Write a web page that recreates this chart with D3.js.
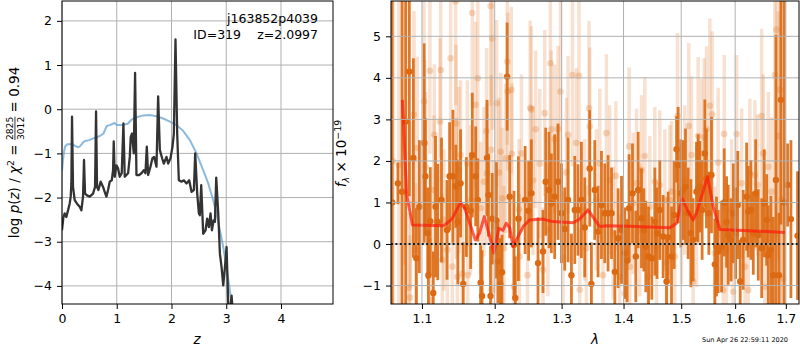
<!DOCTYPE html>
<html>
<head>
<meta charset="utf-8">
<script src="https://d3js.org/d3.v7.min.js"></script>
<style>
body { margin: 0; background: #fff; }
svg { font-family: "DejaVu Sans", sans-serif; }
</style>
</head>
<body>
<script>
// ---- left panel: p(z) ----
var zTicks = [0, 1, 2, 3, 4];
var lpTicks = [-4, -3, -2, -1, 0, 1, 2];

var zPz = [0.000,0.025,0.049,0.079,0.110,0.140,0.159,0.171,0.183,0.201,0.232,0.274,0.323,0.354,0.384,0.402,0.421,0.457,0.506,0.567,
  0.604,0.622,0.640,0.665,0.707,0.750,0.780,0.811,0.841,0.872,0.909,0.933,0.945,0.963,0.994,1.024,1.055,1.091,1.122,1.146,
  1.207,1.238,1.256,1.280,1.311,1.335,1.360,1.409,1.451,1.494,1.524,1.549,1.573,1.616,1.652,1.683,1.726,1.756,1.787,1.829,
  1.860,1.909,1.939,1.982,2.018,2.043,2.073,2.104,2.134,2.183,2.226,2.274,2.323,2.366,2.409,2.433,2.470,2.500,2.518,2.543,
  2.579,2.622,2.652,2.683,2.713,2.738,2.768,2.793,2.817,2.854,2.884,2.915,2.945,2.976,3.006,3.037,3.067,3.098,3.120,3.200];
var logPz = [-2.74,-2.45,-2.36,-2.44,-2.29,-2.14,-1.98,-1.68,-0.17,-1.76,-2.06,-2.14,-2.21,-2.29,-1.98,-1.15,-1.91,-1.95,-1.98,-1.91,
  -1.76,-0.05,-1.76,-1.83,-1.64,-1.76,-1.87,-1.98,-1.83,-1.64,-1.61,-1.38,-0.73,-1.53,-1.27,-1.34,-1.53,-1.45,-0.32,-1.53,
  -1.45,-1.08,-0.62,-0.55,-1.00,0.82,-1.49,-1.49,-1.45,-1.38,-1.45,-0.85,-1.49,-1.30,-1.11,-1.08,-1.30,0.29,-0.92,-1.11,
  -1.23,-1.08,-1.23,-1.11,-0.85,-0.55,1.58,-0.55,-1.61,-1.64,-1.61,-1.68,-1.61,-1.87,-1.83,-1.00,-1.91,-2.36,-2.40,-1.72,
  -2.82,-2.74,-2.48,-2.67,-2.36,-2.74,-2.52,-2.55,-1.55,-2.36,-3.27,-3.58,-3.99,-3.58,-3.12,-4.45,-4.60,-4.22,-4.60,-5.50];

var zPrior = [0,0.018,0.035,0.055,0.09,0.146,0.2,0.25,0.3,0.329,0.38,0.42,0.5,0.567,0.63,0.7,0.757,0.817,0.87,0.91,
  0.96,1.0,1.1,1.2,1.268,1.31,1.36,1.482,1.604,1.726,1.848,1.970,2.091,2.213,2.335,2.457,2.579,2.671,2.762,2.823,
  2.884,2.945,3.006,3.067,3.098,3.15];
var logPrior = [-1.40,-1.15,-0.98,-0.85,-0.80,-0.79,-0.80,-0.84,-0.86,-0.84,-0.76,-0.72,-0.70,-0.66,-0.64,-0.60,-0.55,-0.38,-0.36,-0.34,
  -0.31,-0.36,-0.36,-0.33,-0.24,-0.21,-0.18,-0.14,-0.13,-0.16,-0.21,-0.28,-0.36,-0.49,-0.70,-1.00,-1.38,-1.68,-2.06,-2.36,
  -2.74,-3.12,-3.58,-4.11,-4.41,-5.00];

// ---- right panel: spectrum ----
var waveTicks = [1.1, 1.2, 1.3, 1.4, 1.5, 1.6, 1.7];
var fluxTicks = [-1, 0, 1, 2, 3, 4, 5];

var waveDark = [1.0615,1.0688,1.0741,1.0788,1.0835,1.0888,1.0927,1.0966,1.1029,1.1045,1.1076,1.1085,1.111,1.115,1.118,1.121,1.126,1.1335,1.137,1.1415,
  1.1455,1.1483,1.152,1.1557,1.160,1.166,1.1683,1.173,1.176,1.180,1.182,1.1891,1.1911,1.194,1.1965,1.2025,1.2045,1.208,1.2105,1.218,
  1.2217,1.228,1.230,1.2345,1.2445,1.2497,1.2538,1.2638,1.2714,1.2755,1.2805,1.2842,1.2893,1.2945,1.2998,1.3049,1.3101,1.3154,1.3206,1.3258,
  1.3312,1.3365,1.3445,1.3472,1.3526,1.358,1.3635,1.3689,1.3743,1.38,1.3855,1.391,1.3966,1.4022,1.406,1.4094,1.4151,1.4207,1.4247,1.4304,
  1.4344,1.4378,1.4425,1.4481,1.4534,1.4573,1.4621,1.4679,1.4739,1.4768,1.4827,1.4874,1.4917,1.4945,1.4993,1.5035,1.5077,1.5125,1.5174,1.5215,
  1.5277,1.5307,1.5338,1.538,1.543,1.546,1.5504,1.5553,1.5616,1.5647,1.5678,1.5742,1.5792,1.5837,1.5868,1.592,1.5965,1.601,1.605,1.6097,
  1.6155,1.6221,1.6253,1.6305,1.6351,1.6398,1.6449,1.6516,1.6567,1.6615,1.6646,1.67,1.6746,1.68,1.686,1.69,1.6967,1.7035,1.7104,1.724];
var fluxDark = [1.0,1.46,1.26,2.95,4.15,2.07,-0.34,0.9,2.43,1.63,0.26,-0.75,0.55,-1.18,0.9,0.53,1.06,0.34,1.63,1.63,
  1.39,0.53,1.46,-0.96,0.89,0.8,2.14,1.63,1.06,-0.93,-1.25,2.07,1.18,-1.25,0.61,0.57,-0.42,-0.96,-0.68,4.03,
  1.14,-0.02,-1.3,0.61,1.06,0.8,1.22,-0.46,-0.18,1.5,1.3,0.98,1.14,1.5,0.74,0.36,1.06,-0.75,0.82,0.82,
  1.06,0.4,1.82,-0.96,1.3,0.3,0.94,0.74,0.74,0.74,-0.67,0.14,0.34,-0.22,-0.4,0.86,1.22,-0.3,1.3,0.62,
  0.34,-0.06,-0.3,-0.34,0.54,0.26,0.82,0.18,-0.9,0.16,-0.3,0.7,2.28,1.9,1.22,1.3,1.38,0.74,0.26,0.1,
  1.26,1.34,1.38,0.82,2.18,1.58,0.74,1.66,-0.49,-0.06,-0.18,-0.06,1.0,0.53,0.22,0.1,0.74,0.26,0.94,-0.9,
  0.1,1.14,0.78,0.82,0.26,1.22,0.22,-0.1,0.98,0.58,-0.27,-0.14,-0.75,1.54,-0.75,3.47,1.0,1.42,0.6,0.2];
var errDark = [8,0.5,9,9,3.0,2.4,1.2,1.6,2.4,1.4,1.1,0.9,1.3,1.0,1.7,1.4,1.5,1.2,1.3,1.6,
  1.0,1.5,1.3,1.0,1.2,1.4,1.5,1.2,1.0,0.9,1.1,1.4,1.0,1.2,1.1,1.4,1.0,1.1,0.9,1.3,
  1.0,1.3,1.0,1.5,1.3,1.2,1.3,1.1,1.0,1.3,1.4,1.2,1.5,1.4,1.2,1.0,1.5,1.0,1.3,1.1,
  1.4,1.2,1.4,1.0,1.2,1.1,1.3,1.2,1.4,1.1,1.0,1.2,1.3,1.1,1.0,1.3,1.2,1.1,1.4,1.2,
  1.0,1.1,1.2,1.0,1.3,1.1,1.2,1.0,1.1,1.1,1.2,1.3,0.8,1.4,1.3,1.2,1.4,1.1,1.3,1.0,
  1.2,1.3,1.1,1.2,1.3,1.2,1.0,1.4,1.1,1.2,1.0,1.1,1.3,1.1,1.2,1.0,1.2,1.1,1.3,1.0,
  1.2,1.3,1.1,1.2,1.0,1.3,1.1,1.2,1.3,1.1,1.2,1.3,1.4,3.5,1.5,3.0,8,1.0,1.9,1.55];

var waveLight = [1.0625,1.0701,1.0770,1.0830,1.0844,1.0852,1.0896,1.0918,1.0940,1.1026,1.1036,1.1049,1.1105,1.1114,1.1159,1.1165,1.1240,1.1250,1.1271,1.1293,
  1.1339,1.1384,1.1407,1.1452,1.1458,1.1462,1.1476,1.1497,1.1520,1.1544,1.1613,1.1620,1.1659,1.1682,1.1728,1.1761,1.1800,1.1846,1.1884,1.1890,
  1.1942,1.1950,1.1955,1.1966,1.1990,1.2028,1.2061,1.2086,1.2110,1.2134,1.2159,1.2183,1.2190,1.2241,1.2250,1.2280,1.2354,1.2360,1.2390,1.2480,
  1.2520,1.2538,1.2563,1.2603,1.2664,1.2714,1.2740,1.2790,1.2827,1.2842,1.2893,1.2945,1.2983,1.3023,1.3075,1.3101,1.3170,1.3232,1.3274,1.3285,
  1.3365,1.3391,1.3434,1.3445,1.3553,1.3607,1.3661,1.3716,1.3771,1.3827,1.3872,1.3937,1.4022,1.4094,1.4105,1.4162,1.4219,1.4275,1.4304,1.4361,
  1.4418,1.4447,1.4534,1.4563,1.4621,1.4709,1.4739,1.4797,1.4827,1.4886,1.4934,1.5005,1.5064,1.5137,1.5186,1.5215,1.5277,1.5307,1.5369,1.5418,
  1.5460,1.5523,1.5566,1.5616,1.5678,1.5773,1.5792,1.5837,1.5932,1.5962,1.6028,1.6124,1.6189,1.6253,1.6285,1.6383,1.6435,1.6516,1.6547,1.6580,
  1.6646,1.6712,1.6779,1.6812,1.6845,1.6880,1.6913,1.6946];
var fluxLight = [2.0,1.9,3.0,-1.05,-1.29,0.96,3.11,-0.14,2.31,3.43,2.43,1.86,4.17,-1.35,1.30,2.63,2.95,4.19,-0.39,0.58,
  -0.14,4.47,-0.54,5.84,2.90,1.34,-0.79,1.78,2.14,-0.71,1.94,-0.75,1.06,5.56,3.35,3.99,0.86,1.50,2.72,1.70,
  5.73,2.27,-1.10,4.95,0.42,3.39,1.72,2.22,1.10,-0.10,2.06,4.39,3.67,3.71,2.17,-1.02,0.83,-0.30,2.18,-0.75,
  3.28,3.24,1.53,2.76,1.93,-0.62,3.15,0.34,4.35,2.76,2.52,2.77,3.67,-0.34,1.72,2.63,4.07,2.43,4.05,-1.10,
  0.82,-0.10,3.27,2.83,1.06,1.94,-0.75,2.67,1.54,0.26,1.64,-0.79,-1.19,2.35,-0.55,0.98,1.46,0.34,1.78,2.12,
  -0.79,0.90,1.50,-0.06,1.42,1.06,-0.46,1.06,1.26,-0.30,3.08,0.74,1.54,2.84,2.14,-0.90,0.66,2.60,2.18,2.57,
  2.76,3.33,3.12,-0.22,1.96,-1.11,2.65,-0.14,0.82,-1.15,2.65,1.46,-0.55,-1.11,1.70,1.66,1.42,3.08,2.18,-1.03,
  1.86,1.26,4.07,5.16,2.60,3.71,1.06,-0.83];
var errLight = [9,4,3.5,1.8,1.5,2.0,2.5,1.6,2.2,2.4,2.0,1.8,2.0,1.5,1.8,1.7,2.0,2.1,1.6,1.7,
  1.5,2.2,1.6,2.5,1.9,1.7,1.5,2.0,1.8,1.6,2.0,1.5,1.8,2.3,2.0,2.2,1.6,1.8,2.0,1.7,
  2.4,1.8,1.4,2.2,1.6,2.0,1.8,1.9,1.7,1.5,1.8,2.0,1.9,2.0,1.7,1.5,1.7,1.5,1.9,1.6,
  2.1,2.0,1.8,1.9,1.8,1.5,2.0,1.6,2.2,1.9,1.8,2.0,2.2,1.6,1.8,1.9,2.2,1.8,2.1,1.5,
  1.7,1.5,2.1,1.9,1.7,1.8,1.5,1.9,1.8,1.6,1.8,1.5,1.5,1.9,1.6,1.7,1.8,1.6,1.8,1.9,
  1.5,1.7,1.8,1.6,1.8,1.7,1.6,1.8,1.7,1.6,2.0,1.7,1.8,2.0,1.9,1.5,1.7,1.9,1.8,1.9,
  2.0,2.1,2.0,1.6,1.8,1.5,1.9,1.6,1.7,1.5,1.9,1.8,1.6,1.5,1.8,1.8,1.7,2.1,1.9,1.5,
  1.8,1.8,4.0,5.0,3.0,6.0,6.0,2.0];

var waveModel = [1.0745,1.080,1.0876,1.1289,1.1400,1.1520,1.158,1.1725,1.1784,1.1852,1.1990,1.206,1.212,1.2165,1.2217,1.2266,1.2416,1.2513,1.2714,1.286,
  1.3175,1.3285,1.3418,1.3607,1.3716,1.4105,1.4797,1.4917,1.5016,1.5119,1.5215,1.5277,1.548,1.5586,1.571,1.6257,1.698];
var fluxModel = [3.47,1.2,0.46,0.44,0.6,1.0,0.85,0.1,0.26,0.66,-0.22,0.38,0.33,0.5,0.4,-0.06,0.42,0.58,0.6,0.54,
  0.51,0.6,0.82,0.42,0.44,0.43,0.39,0.5,1.1,0.8,0.58,0.75,1.62,0.9,0.35,0.32,0.28];

var width = 800,
    height = 350,
    yTop = 1, yBot = 304;
var orange = "#dc6a12";

var svg = d3.select("body").append("svg")
    .attr("width", width)
    .attr("height", height);

var defs = svg.append("defs");
function clip(id, x0, x1) {
    defs.append("clipPath").attr("id", id).append("rect")
	.attr("x", x0).attr("y", yTop).attr("width", x1 - x0).attr("height", yBot - yTop);
}
clip("clipL", 62, 333);
clip("clipR", 391, 799);

function grid(g, xs, ys, xt, yt, x0, x1) {
    g.selectAll(".gx").data(xt).enter().append("line")
	.attr("x1", function(d){return xs(d);}).attr("x2", function(d){return xs(d);})
	.attr("y1", yTop).attr("y2", yBot)
	.attr("stroke", "#b0b0b0").attr("stroke-width", 1);
    g.selectAll(".gy").data(yt).enter().append("line")
	.attr("x1", x0).attr("x2", x1)
	.attr("y1", function(d){return ys(d);}).attr("y2", function(d){return ys(d);})
	.attr("stroke", "#b0b0b0").attr("stroke-width", 1);
}

function axes(xs, ys, xt, yt, x0, x1, fmtx) {
    var ax = svg.append("g").attr("transform", "translate(0," + yBot + ")")
	.call(d3.axisBottom(xs).tickValues(xt).tickSize(5).tickPadding(5).tickSizeOuter(0).tickFormat(fmtx));
    var ay = svg.append("g").attr("transform", "translate(" + x0 + ",0)")
	.call(d3.axisLeft(ys).tickValues(yt).tickSize(5).tickPadding(5).tickSizeOuter(0).tickFormat(d3.format("d")));
    [ax, ay].forEach(function(a){
	a.attr("font-family", null).attr("font-size", 12.5);
	a.select(".domain").remove();
	a.selectAll("text").attr("fill", "#000");
    });
    svg.append("rect").attr("x", x0).attr("y", yTop).attr("width", x1 - x0).attr("height", yBot - yTop)
	.attr("fill", "none").attr("stroke", "#000").attr("stroke-width", 1);
}

// rotated label built from pieces (italic, sup, sub, fraction)
function mathLabel(tx, ty, fs, parts) {
    var g = svg.append("g").attr("transform", "translate(" + tx + "," + ty + ") rotate(-90)");
    var inner = g.append("g");
    var x = 0;
    parts.forEach(function(p){
	if (p.frac) {
	    var s = fs * 0.68;
	    var a = inner.append("text").attr("y", -fs * 0.42).attr("font-size", s).text(p.frac[0]);
	    var b = inner.append("text").attr("y", fs * 0.36).attr("font-size", s).text(p.frac[1]);
	    var wa = a.node().getComputedTextLength(), wb = b.node().getComputedTextLength();
	    var w = Math.max(wa, wb);
	    a.attr("x", x + (w - wa) / 2);
	    b.attr("x", x + (w - wb) / 2);
	    inner.append("line").attr("x1", x).attr("x2", x + w)
		.attr("y1", -fs * 0.3).attr("y2", -fs * 0.3)
		.attr("stroke", "#000").attr("stroke-width", 0.8);
	    x += w;
	} else {
	    var small = p.sup || p.sub;
	    var t = inner.append("text")
		.attr("x", x)
		.attr("y", p.sup ? -fs * 0.4 : (p.sub ? fs * 0.22 : 0))
		.attr("font-size", small ? fs * 0.7 : fs)
		.attr("font-style", p.it ? "italic" : null)
		.style("white-space", "pre")
		.text(p.t);
	    x += t.node().getComputedTextLength();
	}
    });
    inner.attr("transform", "translate(" + (-x / 2) + ",0)");
}

// ================= left panel =================
var xz = d3.scaleLinear().domain([0, 4.95]).range([62, 333]);
var yp = d3.scaleLinear().domain([-4.41, 2.45]).range([yBot, yTop]);

grid(svg.append("g"), xz, yp, zTicks, lpTicks, 62, 333);

var lineZ = d3.line().x(function(d){return xz(d[0]);}).y(function(d){return yp(d[1]);});
var gl = svg.append("g").attr("clip-path", "url(#clipL)");
gl.append("path")
    .attr("d", lineZ(zPrior.map(function(z, i){return [z, logPrior[i]];})))
    .attr("fill", "none").attr("stroke", "#6fa8d6").attr("stroke-opacity", 0.8)
    .attr("stroke-width", 2);
gl.append("path")
    .attr("d", lineZ(zPz.map(function(z, i){return [z, logPz[i]];})))
    .attr("fill", "none").attr("stroke", "#333").attr("stroke-width", 2.3)
    .attr("stroke-linejoin", "round");

axes(xz, yp, zTicks, lpTicks, 62, 333, d3.format("d"));

svg.append("text").attr("x", 318).attr("y", 23).attr("text-anchor", "end")
    .attr("font-size", 12.5).text("j163852p4039");
svg.append("text").attr("x", 318).attr("y", 38.5).attr("text-anchor", "end")
    .attr("font-size", 12.5).text("z=2.0997");
svg.append("text").attr("x", 241).attr("y", 38.5).attr("text-anchor", "end")
    .attr("font-size", 12.5).text("ID=319");

svg.append("text").attr("x", 197).attr("y", 344).attr("text-anchor", "middle")
    .attr("font-size", 13.5).attr("font-style", "italic").text("z");

mathLabel(19, 152.5, 13.5, [
    {t: "log "}, {t: "p", it: true}, {t: "("}, {t: "z", it: true}, {t: ") / "},
    {t: "χ", it: true}, {t: "2", sup: true}, {t: " = "}, {frac: ["2825", "3012"]}, {t: " = 0.94"}
]);

// ================= right panel =================
var xl = d3.scaleLog().domain([1.06, 1.727]).range([391, 799]);
var yf = d3.scaleLinear().domain([-1.444, 5.85]).range([yBot, yTop]);

var gr = svg.append("g").attr("clip-path", "url(#clipR)");

// light spectrum
gr.append("g").selectAll("line").data(waveLight).enter().append("line")
    .attr("x1", function(d){return xl(d);}).attr("x2", function(d){return xl(d);})
    .attr("y1", function(d, i){return yf(fluxLight[i] - errLight[i]);})
    .attr("y2", function(d, i){return yf(fluxLight[i] + errLight[i]);})
    .attr("stroke", orange).attr("stroke-opacity", 0.2).attr("stroke-width", 3.5);
gr.append("g").selectAll("circle").data(waveLight).enter().append("circle")
    .attr("cx", function(d){return xl(d);})
    .attr("cy", function(d, i){return yf(fluxLight[i]);})
    .attr("r", 3.3).attr("fill", orange).attr("fill-opacity", 0.25);

// dark spectrum
gr.append("g").selectAll("line").data(waveDark).enter().append("line")
    .attr("x1", function(d){return xl(d);}).attr("x2", function(d){return xl(d);})
    .attr("y1", function(d, i){return yf(fluxDark[i] - errDark[i]);})
    .attr("y2", function(d, i){return yf(fluxDark[i] + errDark[i]);})
    .attr("stroke", orange).attr("stroke-opacity", 0.9).attr("stroke-width", 2.8);
gr.append("g").selectAll("circle").data(waveDark).enter().append("circle")
    .attr("cx", function(d){return xl(d);})
    .attr("cy", function(d, i){return yf(fluxDark[i]);})
    .attr("r", 3.2).attr("fill", orange);

grid(svg.append("g"), xl, yf, waveTicks, fluxTicks, 391, 799);

var lineW = d3.line().x(function(d){return xl(d[0]);}).y(function(d){return yf(d[1]);});
gr.append("path")
    .attr("d", lineW(waveModel.map(function(w, i){return [w, fluxModel[i]];})))
    .attr("fill", "none").attr("stroke", "#ff1a0a").attr("stroke-opacity", 0.7)
    .attr("stroke-width", 3).attr("stroke-linejoin", "round");

svg.append("line").attr("x1", 391).attr("x2", 799).attr("y1", yf(0)).attr("y2", yf(0))
    .attr("stroke", "#000").attr("stroke-width", 2).attr("stroke-dasharray", "2,2.4")
    .attr("stroke-opacity", 0.85);

axes(xl, yf, waveTicks, fluxTicks, 391, 799, d3.format(".1f"));

svg.append("text").attr("x", 595).attr("y", 344).attr("text-anchor", "middle")
    .attr("font-size", 13.5).attr("font-style", "italic").text("λ");

mathLabel(346, 153.5, 13.5, [
    {t: "f", it: true}, {t: "λ", sub: true, it: true}, {t: " × 10"}, {t: "−19", sup: true}
]);

svg.append("text").attr("x", 788).attr("y", 342).attr("text-anchor", "end")
    .attr("font-size", 6.5).text("Sun Apr 26 22:59:11 2020");
</script>
</body>
</html>
